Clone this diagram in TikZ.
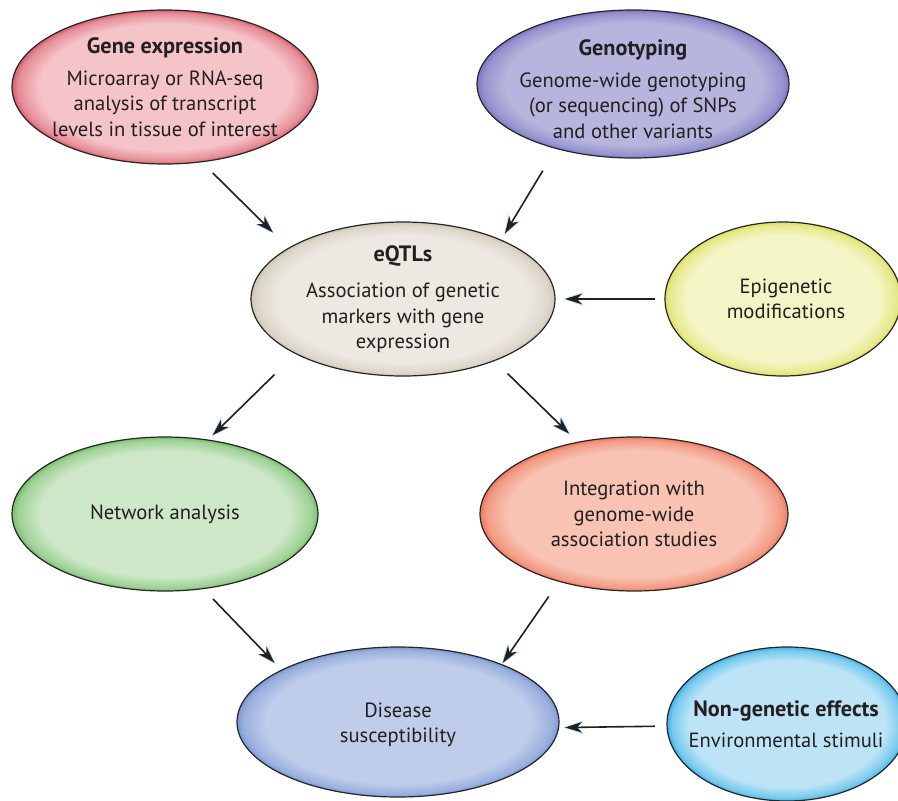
\documentclass[tikz,border=0pt]{standalone}
\usepackage{fontspec}
\setmainfont{PT Sans}
\usetikzlibrary{shapes.geometric,arrows.meta}
\pgfdeclareradialshading[glowin,glowout]{glow}{\pgfpointorigin}{color(0bp)=(glowin); color(20.5bp)=(glowin); color(24bp)=(glowout!55!glowin); color(25bp)=(glowout); color(50bp)=(glowout)}
\colorlet{glowin}{white}
\colorlet{glowout}{gray}
\definecolor{txt}{HTML}{231F20}
\definecolor{tipglow}{HTML}{B4E2F4}
\definecolor{geIn}{HTML}{F5C4C9}\definecolor{geOut}{HTML}{D9606F}
\definecolor{gtIn}{HTML}{B7B5DD}\definecolor{gtOut}{HTML}{7C77C2}
\definecolor{eqIn}{HTML}{EDE9E2}\definecolor{eqOut}{HTML}{CFC7B6}
\definecolor{epIn}{HTML}{F4F5C6}\definecolor{epOut}{HTML}{DCE05E}
\definecolor{naIn}{HTML}{CDE7C8}\definecolor{naOut}{HTML}{78C06C}
\definecolor{igIn}{HTML}{F8C3B3}\definecolor{igOut}{HTML}{EE7A5E}
\definecolor{dsIn}{HTML}{BFCDEB}\definecolor{dsOut}{HTML}{7C97D4}
\definecolor{ngIn}{HTML}{BCE4F6}\definecolor{ngOut}{HTML}{3DB3E6}
\newcommand{\ttl}[1]{{\fontsize{22.2}{25.5}\selectfont\bfseries #1}}
\tikzset{
  blob/.style n args={4}{shape=ellipse, minimum width=#1, minimum height=#2, inner sep=0pt, outer sep=0pt,
     draw=black!85, line width=1.2pt,
     /utils/exec={\colorlet{glowin}{#3}\colorlet{glowout}{#4}}, shading=glow},
  lbl/.style={font=\fontsize{20.6}{25.5}\selectfont, text=txt, align=center, inner sep=0pt},
  arrglow/.style={draw=tipglow, line width=0.5pt, -{Stealth[length=20pt, width=14pt, inset=6pt, fill=tipglow]}},
  arr/.style={draw=txt, line width=1.6pt, -{Stealth[length=17pt, width=10.5pt, inset=5pt, fill=txt]}}
}
\begin{document}
\begin{tikzpicture}[x=1pt,y=1pt]
\useasboundingbox (0,0) rectangle (898,-801);
\fill[white] (0,0) rectangle (898,-801);
% nodes
\node[blob={306pt}{154pt}{geIn}{geOut},
  label={[lbl]center:{\ttl{Gene expression}\\[6pt]Microarray or RNA-seq\\analysis of transcript\\levels in tissue of interest}}]
  (ge) at (165,-87) {};
\node[blob={312pt}{148pt}{gtIn}{gtOut},
  label={[lbl,yshift=-5pt]center:{\ttl{Genotyping}\\[6pt]Genome-wide genotyping\\(or sequencing) of SNPs\\and other variants}}]
  (gt) at (633,-84) {};
\node[blob={304pt}{154pt}{eqIn}{eqOut},
  label={[lbl]center:{\ttl{eQTLs}\\[11pt]Association of genetic\\markers with gene\\expression}}]
  (eq) at (403,-299) {};
\node[blob={236pt}{154pt}{epIn}{epOut},
  label={[lbl,xshift=3pt]center:{Epigenetic\\modifications}}]
  (ep) at (783,-299) {};
\node[blob={306pt}{154pt}{naIn}{naOut},
  label={[lbl]center:{Network analysis}}]
  (na) at (165,-514) {};
\node[blob={308pt}{154pt}{igIn}{igOut},
  label={[lbl]center:{Integration with\\genome-wide\\association studies}}]
  (ig) at (634,-514) {};
\node[blob={322pt}{150pt}{dsIn}{dsOut},
  label={[lbl,yshift=-3pt]center:{Disease\\susceptibility}}]
  (ds) at (398,-722) {};
\node[blob={240pt}{154pt}{ngIn}{ngOut},
  label={[lbl,xshift=-1pt]center:{\ttl{Non-genetic effects}\\[6pt]Environmental stimuli}}]
  (ng) at (787,-724) {};
% connector tip glows
\draw[arrglow, shorten <=40pt, shorten >=20.9pt] (ge.-64.4) -- (eq.156.4);
\draw[arrglow, shorten <=40pt, shorten >=6.2pt] (gt.-140.4) -- (eq.31.7);
\draw[arrglow, shorten <=40pt, shorten >=8.5pt] (ep.west) -- (eq.east);
\draw[arrglow, shorten <=50pt, shorten >=5.5pt] (eq.-153.7) -- (na.60.4);
\draw[arrglow, shorten <=40pt, shorten >=10.8pt] (eq.-34.7) -- (ig.128.7);
\draw[arrglow, shorten <=40pt, shorten >=8.7pt] (na.-63.6) -- (ds.156.1);
\draw[arrglow, shorten <=40pt, shorten >=0.6pt] (ig.-138.8) -- (ds.29.05);
\draw[arrglow, shorten <=40pt, shorten >=5pt] (ng.181.9) -- (ds.-2.14);
% connectors
\draw[arr, shorten <=15.8pt, shorten >=22.4pt] (ge.-64.4) -- (eq.156.4);
\draw[arr, shorten <=26pt, shorten >=7.7pt] (gt.-140.4) -- (eq.31.7);
\draw[arr, shorten <=10pt, shorten >=10pt] (ep.west) -- (eq.east);
\draw[arr, shorten <=30pt, shorten >=7pt] (eq.-153.7) -- (na.60.4);
\draw[arr, shorten <=18.5pt, shorten >=12.3pt] (eq.-34.7) -- (ig.128.7);
\draw[arr, shorten <=14.3pt, shorten >=10.2pt] (na.-63.6) -- (ds.156.1);
\draw[arr, shorten <=18.5pt, shorten >=2.1pt] (ig.-138.8) -- (ds.29.05);
\draw[arr, shorten <=12.2pt, shorten >=6.5pt] (ng.181.9) -- (ds.-2.14);
\end{tikzpicture}
\end{document}
